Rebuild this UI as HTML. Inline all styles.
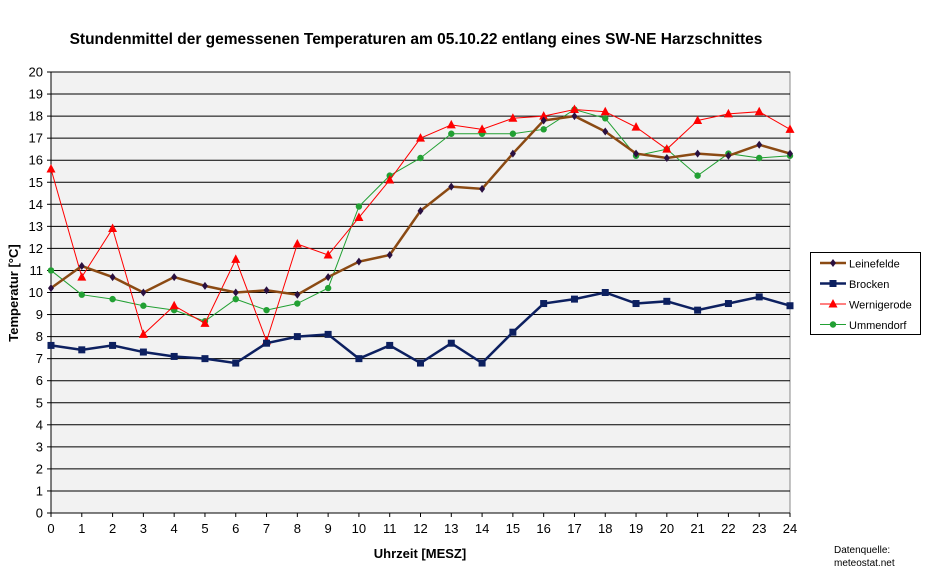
<!DOCTYPE html>
<html><head><meta charset="utf-8"><style>
html,body{margin:0;padding:0;background:#fff;}
svg{display:block;font-family:"Liberation Sans",Arial,sans-serif;}
</style></head><body>
<svg id="c" width="927" height="582" xmlns="http://www.w3.org/2000/svg"></svg>
<script>
const s=document.getElementById('c');
const L=51,R=790,T=72,B=513;
const X=h=>L+h*(R-L)/24, Y=v=>B-v*(B-T)/20;
let o='';
o+=`<rect x="${L}" y="${T}" width="${R-L}" height="${B-T}" fill="#f2f2f2" stroke="#888"/>`;
for(let v=0;v<=20;v++){const y=Y(v);
 if(v>0)o+=`<line x1="${L}" x2="${R}" y1="${y}" y2="${y}" stroke="#000" stroke-width="1"/>`;
 o+=`<line x1="${L-4}" x2="${L}" y1="${y}" y2="${y}" stroke="#000"/>`;
 o+=`<text x="${L-8}" y="${y+4.5}" font-size="13" text-anchor="end">${v}</text>`;}
o+=`<line x1="${L}" x2="${R}" y1="${B}" y2="${B}" stroke="#000"/><line x1="${L}" x2="${L}" y1="${T}" y2="${B}" stroke="#000"/>`;
for(let h=0;h<=24;h++){const x=X(h);
 o+=`<line x1="${x}" x2="${x}" y1="${B}" y2="${B+4}" stroke="#000"/>`;
 o+=`<text x="${x}" y="${B+20}" font-size="13" text-anchor="middle">${h}</text>`;}
const D={
lei:[10.2,11.2,10.7,10.0,10.7,10.3,10.0,10.1,9.9,10.7,11.4,11.7,13.7,14.8,14.7,16.3,17.8,18.0,17.3,16.3,16.1,16.3,16.2,16.7,16.3],
bro:[7.6,7.4,7.6,7.3,7.1,7.0,6.8,7.7,8.0,8.1,7.0,7.6,6.8,7.7,6.8,8.2,9.5,9.7,10.0,9.5,9.6,9.2,9.5,9.8,9.4],
wer:[15.6,10.7,12.9,8.1,9.4,8.6,11.5,7.8,12.2,11.7,13.4,15.1,17.0,17.6,17.4,17.9,18.0,18.3,18.2,17.5,16.5,17.8,18.1,18.2,17.4],
umm:[11.0,9.9,9.7,9.4,9.2,8.7,9.7,9.2,9.5,10.2,13.9,15.3,16.1,17.2,17.2,17.2,17.4,18.3,17.9,16.2,16.5,15.3,16.3,16.1,16.2]};
const pts=a=>a.map((v,i)=>X(i)+','+Y(v)).join(' ');
function mk(t,x,y){
 if(t=='bro')return `<rect x="${x-3.5}" y="${y-3.5}" width="7" height="7" fill="#0d2060"/>`;
 if(t=='wer')return `<polygon points="${x},${y-5} ${x+4.5},${y+3.5} ${x-4.5},${y+3.5}" fill="#f00"/>`;
 if(t=='umm')return `<circle cx="${x}" cy="${y}" r="3.2" fill="#22a033"/>`;
 return `<polygon points="${x},${y-4} ${x+3},${y} ${x},${y+4} ${x-3},${y}" fill="#2a1040"/>`;}
const st={lei:['#8b4a13',2.5],bro:['#0d2060',2.5],wer:['#f00',1],umm:['#22a033',1]};
for(const k of ['umm','wer','bro','lei']){
 o+=`<polyline points="${pts(D[k])}" fill="none" stroke="${st[k][0]}" stroke-width="${st[k][1]}"/>`;
 D[k].forEach((v,i)=>o+=mk(k,X(i),Y(v)));}
o+=`<text x="416" y="44" font-size="15.5" font-weight="bold" text-anchor="middle">Stundenmittel der gemessenen Temperaturen am 05.10.22 entlang eines SW-NE Harzschnittes</text>`;
o+=`<text x="420" y="558" font-size="13" font-weight="bold" text-anchor="middle">Uhrzeit [MESZ]</text>`;
o+=`<text transform="translate(18,293) rotate(-90)" font-size="13" font-weight="bold" text-anchor="middle">Temperatur [°C]</text>`;
o+=`<text x="834" y="553" font-size="10">Datenquelle:</text><text x="834" y="566" font-size="10">meteostat.net</text>`;
o+=`<rect x="810.5" y="252.5" width="110" height="82" fill="#fff" stroke="#000"/>`;
const lg=[['lei','Leinefelde'],['bro','Brocken'],['wer','Wernigerode'],['umm','Ummendorf']];
lg.forEach(([k,n],i)=>{const y=263+i*20.5;
 o+=`<line x1="820" x2="846" y1="${y}" y2="${y}" stroke="${st[k][0]}" stroke-width="${st[k][1]}"/>`+mk(k,833,y);
 o+=`<text x="849" y="${y+4.5}" font-size="11">${n}</text>`;});
s.innerHTML=o;
</script>
</body></html>
